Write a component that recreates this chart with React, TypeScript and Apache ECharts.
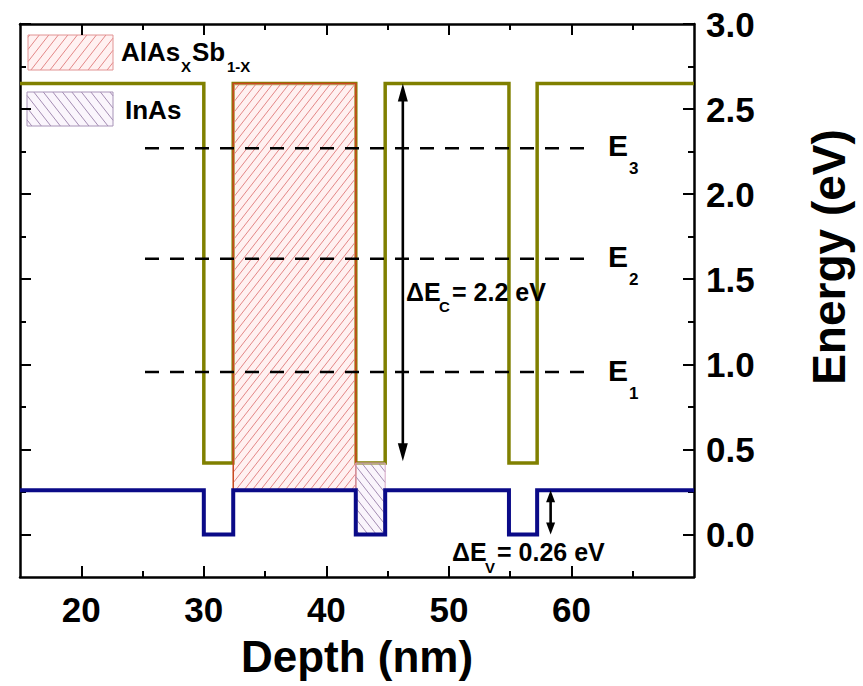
import { useEffect, useRef } from "react";
import * as echarts from "echarts";

// ---------- data ----------
const xRange = [15, 70];
const yRange = [-0.25, 3.0];
const xMajorTicks = [20, 30, 40, 50, 60];
const xMinorTicks = [25, 35, 45, 55, 65];
const yMajorTicks = [0, 0.5, 1.0, 1.5, 2.0, 2.5, 3.0];
const yMinorTicks = [0.25, 0.75, 1.25, 1.75, 2.25, 2.75];

// conduction band edge (depth nm, energy eV)
const conductionBand: number[][] = [
  [15, 2.65], [30, 2.65], [30, 0.42], [32.4, 0.42], [32.4, 2.65],
  [42.4, 2.65], [42.4, 0.42], [44.8, 0.42], [44.8, 2.65],
  [54.9, 2.65], [54.9, 0.42], [57.2, 0.42], [57.2, 2.65], [70, 2.65],
];
// valence band edge
const valenceBand: number[][] = [
  [15, 0.26], [30, 0.26], [30, 0], [32.4, 0], [32.4, 0.26],
  [42.4, 0.26], [42.4, 0], [44.8, 0], [44.8, 0.26],
  [54.9, 0.26], [54.9, 0], [57.2, 0], [57.2, 0.26], [70, 0.26],
];
// confined levels
const levelNames = ["1", "2", "3"];
const levelEnergies = [0.955, 1.62, 2.27];
const levelSpan = [25.2, 61.6];
// hatched layers: [x0, x1, y0, y1, styleIndex]
const layerNames = ["AlAsSb", "InAs"];
const layerBlocks: number[][] = [
  [32.4, 42.4, 0.26, 2.65, 0],
  [42.4, 44.8, 0.0, 0.42, 1],
];
// double arrows: [x, yFrom, yTo, styleIndex]
const arrowSpans: number[][] = [
  [46.24, 0.43, 2.65, 0],
  [58.3, 0.0, 0.26, 1],
];

// ---------- styles ----------
const FONT = '"Liberation Sans", Arial, Helvetica, sans-serif';
const OLIVE = "#808000";
const NAVY = "#0a0a88";
const HATCH = [
  { fill: "rgba(255,225,225,0.45)", line: "#e07a7a", border: "#c8481e", borderWidth: 1.5, spacing: 6.5, angle: 52, slash: true },
  { fill: "rgba(240,225,245,0.35)", line: "#9a80aa", border: "#d6a6c6", borderWidth: 1, spacing: 6.5, angle: 52, slash: false },
];
const LEGEND_HATCH = [
  { ...HATCH[0], border: "#e29494", borderWidth: 1, spacing: 7.5 },
  { ...HATCH[1], border: "#a894b8", borderWidth: 1, spacing: 7.5 },
];
const HEADS = [
  { w: 10, l: 18 },
  { w: 9, l: 12 },
];

function hatchSegments(x: number, y: number, w: number, h: number, spacing: number, angleDeg: number, slash: boolean) {
  const a = (angleDeg * Math.PI) / 180;
  const dx = Math.cos(a);
  const dy = slash ? -Math.sin(a) : Math.sin(a);
  const nx = -dy, ny = dx;
  const cs = [[x, y], [x + w, y], [x, y + h], [x + w, y + h]].map(([px, py]) => px * nx + py * ny);
  const cmin = Math.min(...cs), cmax = Math.max(...cs);
  const segs: number[][] = [];
  for (let c = Math.ceil(cmin / spacing) * spacing; c <= cmax; c += spacing) {
    const ox = nx * c, oy = ny * c;
    let t0 = -Infinity, t1 = Infinity;
    let ta = (x - ox) / dx, tb = (x + w - ox) / dx;
    if (ta > tb) [ta, tb] = [tb, ta];
    t0 = Math.max(t0, ta); t1 = Math.min(t1, tb);
    ta = (y - oy) / dy; tb = (y + h - oy) / dy;
    if (ta > tb) [ta, tb] = [tb, ta];
    t0 = Math.max(t0, ta); t1 = Math.min(t1, tb);
    if (t1 - t0 > 0.5) segs.push([ox + dx * t0, oy + dy * t0, ox + dx * t1, oy + dy * t1]);
  }
  return segs;
}

function hatchGroup(x: number, y: number, w: number, h: number, st: any) {
  const segs = hatchSegments(x, y, w, h, st.spacing, st.angle, st.slash);
  return [
    { type: "rect", shape: { x, y, width: w, height: h }, style: { fill: st.fill, stroke: null } },
    ...segs.map((s) => ({
      type: "line",
      shape: { x1: s[0], y1: s[1], x2: s[2], y2: s[3] },
      style: { stroke: st.line, lineWidth: 0.9 },
    })),
    { type: "rect", shape: { x, y, width: w, height: h }, style: { fill: null, stroke: st.border, lineWidth: st.borderWidth } },
  ];
}

function txt(text: string, x: number, y: number, size: number, extra: any = {}) {
  return {
    type: "text",
    x,
    y,
    z: 100,
    ...extra,
    style: {
      text,
      fill: "#000",
      fontSize: size,
      fontWeight: "bold",
      fontFamily: FONT,
      align: extra.align || "left",
      verticalAlign: "middle",
    },
  };
}

function majorAxis(pos: string, ticks: number[], showLabel: boolean, range: number[], isY: boolean) {
  return {
    type: "value",
    position: pos,
    min: range[0],
    max: range[1],
    axisLine: { show: true, onZero: false, lineStyle: { color: "#000", width: 2.5 } },
    axisTick: { show: true, inside: true, length: 11, customValues: ticks, lineStyle: { color: "#000", width: 2 } },
    axisLabel: {
      show: showLabel,
      customValues: ticks,
      color: "#000",
      fontSize: 35,
      fontWeight: "bold",
      fontFamily: FONT,
      margin: isY ? 12 : 15,
      formatter: (v: number) => (isY ? v.toFixed(1) : String(v)),
    },
    splitLine: { show: false },
    minorTick: { show: false },
  };
}
function minorAxis(pos: string, ticks: number[], range: number[]) {
  return {
    type: "value",
    position: pos,
    min: range[0],
    max: range[1],
    axisLine: { show: false, onZero: false },
    axisTick: { show: true, inside: true, length: 6, customValues: ticks, lineStyle: { color: "#000", width: 2 } },
    axisLabel: { show: false },
    splitLine: { show: false },
  };
}

export default function App() {
  const ref = useRef<HTMLDivElement>(null);
  useEffect(() => {
    if (!ref.current) return;
    const chart = echarts.init(ref.current, null, { renderer: "svg" });

    const levelSeries = levelEnergies.map((e, i) => ({
      type: "line",
      name: "E" + levelNames[i],
      data: [[levelSpan[0], e], [levelSpan[1], e]],
      showSymbol: false,
      symbol: "none",
      z: 6,
      lineStyle: { color: "#000", width: 2.6, type: [14, 11] },
    }));

    const legendGraphics: any[] = [
      ...hatchGroup(28, 35, 85, 35, LEGEND_HATCH[0]),
      ...hatchGroup(27, 92, 86, 34, LEGEND_HATCH[1]),
    ];

    const option: any = {
      animation: false,
      backgroundColor: "#fff",
      grid: { left: 20, right: 169, top: 24, bottom: 109, containLabel: false, outerBoundsMode: "none" },
      xAxis: [
        majorAxis("bottom", xMajorTicks, true, xRange, false),
        minorAxis("bottom", xMinorTicks, xRange),
        majorAxis("top", xMajorTicks, false, xRange, false),
        minorAxis("top", xMinorTicks, xRange),
      ],
      yAxis: [
        majorAxis("right", yMajorTicks, true, yRange, true),
        minorAxis("right", yMinorTicks, yRange),
        majorAxis("left", yMajorTicks, false, yRange, true),
        minorAxis("left", yMinorTicks, yRange),
      ],
      series: [
        {
          type: "line",
          name: "Conduction band",
          data: conductionBand,
          showSymbol: false,
          symbol: "none",
          z: 2,
          lineStyle: { color: OLIVE, width: 3.5, join: "miter", cap: "butt" },
        },
        {
          type: "custom",
          name: "layers",
          coordinateSystem: "cartesian2d",
          z: 3,
          data: layerBlocks,
          renderItem: (_p: any, api: any) => {
            const a = api.coord([api.value(0), api.value(3)]);
            const b = api.coord([api.value(1), api.value(2)]);
            const st = HATCH[api.value(4)];
            return { type: "group", children: hatchGroup(a[0], a[1], b[0] - a[0], b[1] - a[1], st) };
          },
        },
        {
          type: "line",
          name: "Valence band",
          data: valenceBand,
          showSymbol: false,
          symbol: "none",
          z: 4,
          lineStyle: { color: NAVY, width: 4, join: "miter", cap: "butt" },
        },
        ...levelSeries,
        {
          type: "custom",
          name: "arrows",
          coordinateSystem: "cartesian2d",
          z: 7,
          data: arrowSpans,
          renderItem: (_p: any, api: any) => {
            const p0 = api.coord([api.value(0), api.value(1)]);
            const p1 = api.coord([api.value(0), api.value(2)]);
            const hd = HEADS[api.value(3)];
            const L = Math.hypot(p1[0] - p0[0], p1[1] - p0[1]);
            const ux = (p1[0] - p0[0]) / L, uy = (p1[1] - p0[1]) / L;
            const px = -uy, py = ux;
            const head = (tip: number[], s: number) => [
              [tip[0], tip[1]],
              [tip[0] + s * ux * hd.l + (px * hd.w) / 2, tip[1] + s * uy * hd.l + (py * hd.w) / 2],
              [tip[0] + s * ux * hd.l - (px * hd.w) / 2, tip[1] + s * uy * hd.l - (py * hd.w) / 2],
            ];
            return {
              type: "group",
              children: [
                {
                  type: "line",
                  shape: {
                    x1: p0[0] + ux * hd.l * 0.8, y1: p0[1] + uy * hd.l * 0.8,
                    x2: p1[0] - ux * hd.l * 0.8, y2: p1[1] - uy * hd.l * 0.8,
                  },
                  style: { stroke: "#000", lineWidth: 2.6 },
                },
                { type: "polygon", shape: { points: head(p1, -1) }, style: { fill: "#000" } },
                { type: "polygon", shape: { points: head(p0, 1) }, style: { fill: "#000" } },
              ],
            };
          },
        },
      ],
      graphic: [
        ...legendGraphics,
        txt("AlAs", 121, 51.5, 26),
        txt("X", 181, 66, 15),
        txt("Sb", 192, 51.5, 26),
        txt("1-X", 227, 66, 15),
        txt("InAs", 125, 110, 26),
        txt("E", 608, 145, 30), txt("3", 629, 168, 17),
        txt("E", 608, 256, 30), txt("2", 629, 279, 17),
        txt("E", 608, 370, 30), txt("1", 629, 393, 17),
        txt("\u0394E", 406, 292, 25), txt("C", 439, 306, 15), txt("= 2.2 eV", 452, 292, 25),
        txt("\u0394E", 452, 552, 25), txt("V", 485, 567, 15), txt("= 0.26 eV", 497, 552, 25),
        txt("Depth (nm)", 357, 656, 44, { align: "center" }),
        txt("Energy (eV)", 829, 257, 46, { align: "center", rotation: Math.PI / 2 }),
      ],
    };
    chart.setOption(option);
    return () => chart.dispose();
  }, []);
  return <div ref={ref} style={{ position: "fixed", left: 0, top: 0, width: 863, height: 686, background: "#fff" }} />;
}
